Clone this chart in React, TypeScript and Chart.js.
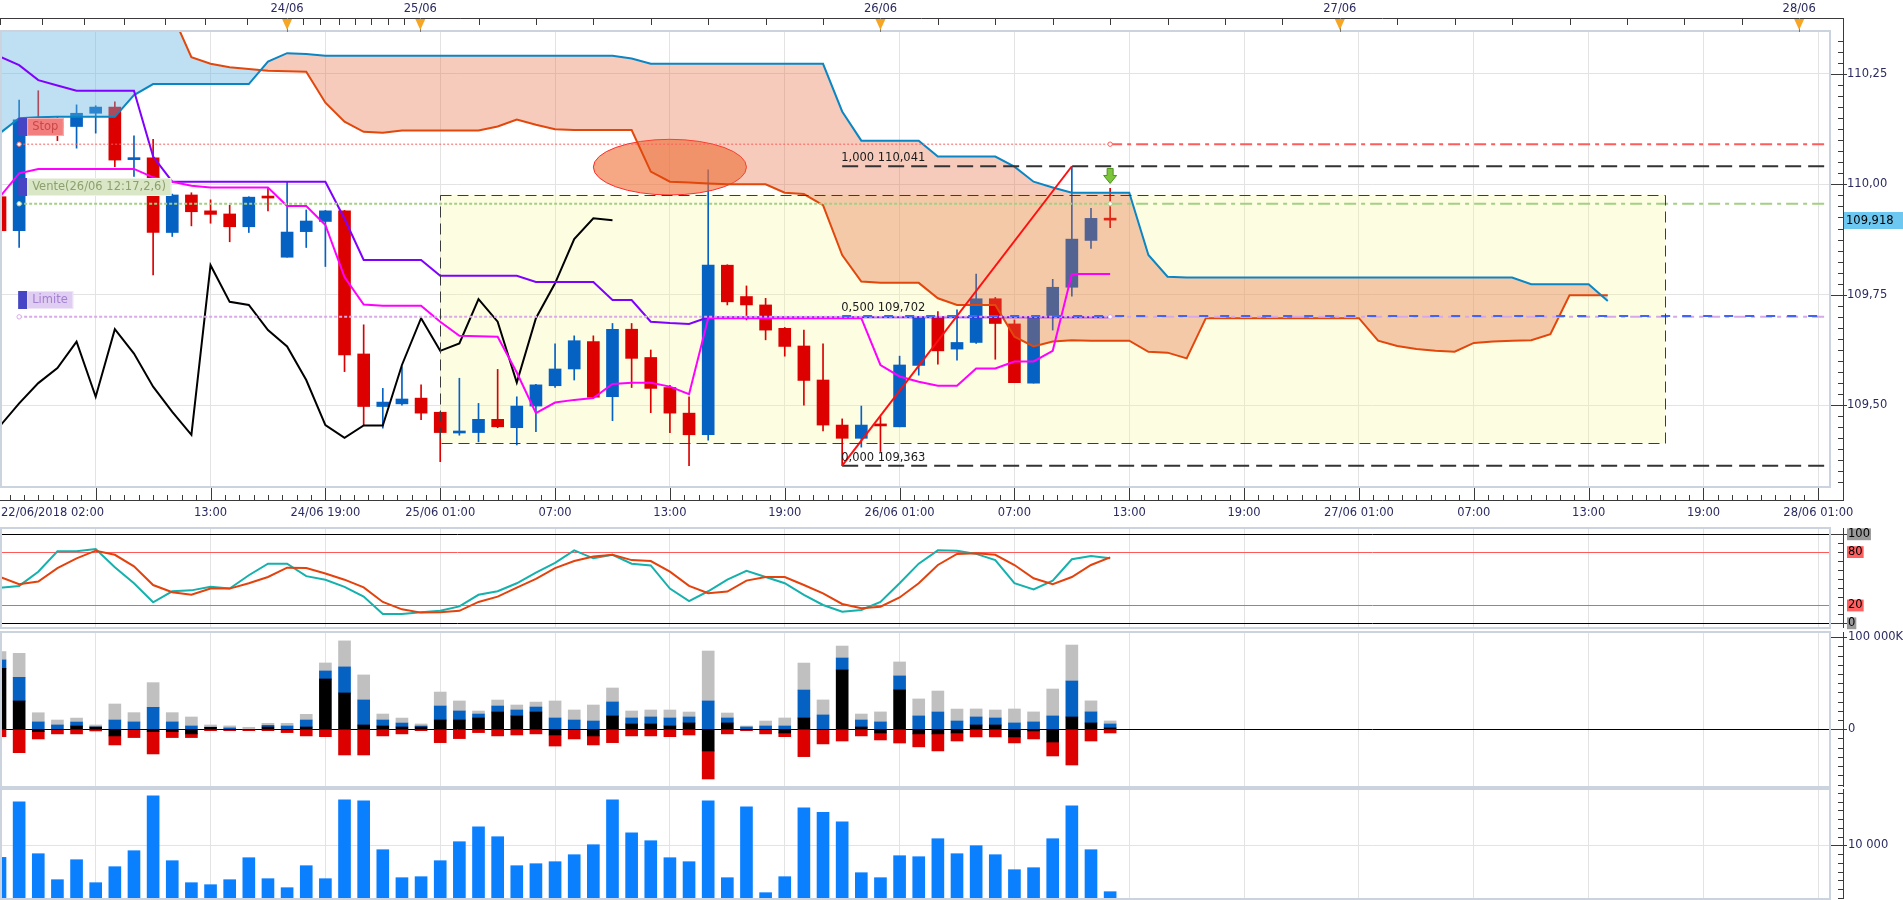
import React, { useEffect, useRef } from 'react';
import { Chart, registerables } from 'chart.js';

Chart.register(...registerables);

// ---------------- data (hourly candles) ----------------
const OPEN = [109.972, 109.895, 110.146, 110.140, 110.131, 110.161, 110.175, 110.056, 110.060, 109.891,
  109.976, 109.940, 109.933, 109.904, 109.971, 109.835, 109.893, 109.916, 109.940, 109.616,
  109.497, 109.503, 109.516, 109.484, 109.437, 109.438, 109.468, 109.449, 109.498, 109.544,
  109.582, 109.644, 109.519, 109.672, 109.608, 109.540, 109.482, 109.433, 109.817, 109.746,
  109.727, 109.674, 109.634, 109.557, 109.455, 109.425, 109.455, 109.451, 109.590, 109.700,
  109.627, 109.642, 109.741, 109.684, 109.550, 109.700, 109.767, 109.873, 109.923];
const HIGH = [109.975, 110.191, 110.212, 110.152, 110.180, 110.178, 110.187, 110.110, 110.102, 109.978,
  109.981, 109.965, 109.953, 109.972, 109.991, 110.006, 109.942, 109.941, 109.941, 109.682,
  109.538, 109.587, 109.546, 109.485, 109.561, 109.504, 109.581, 109.519, 109.547, 109.639,
  109.657, 109.657, 109.685, 109.685, 109.625, 109.545, 109.519, 110.033, 109.818, 109.770,
  109.742, 109.676, 109.670, 109.639, 109.469, 109.498, 109.474, 109.611, 109.700, 109.712,
  109.716, 109.797, 109.744, 109.693, 109.700, 109.785, 110.041, 109.946, 109.991];
const LOW = [109.880, 109.857, 110.120, 110.099, 110.082, 110.116, 110.040, 110.018, 109.795, 109.882,
  109.906, 109.912, 109.870, 109.891, 109.940, 109.835, 109.857, 109.814, 109.576, 109.455,
  109.448, 109.500, 109.467, 109.372, 109.432, 109.417, 109.449, 109.410, 109.440, 109.540,
  109.557, 109.516, 109.465, 109.540, 109.483, 109.438, 109.363, 109.421, 109.727, 109.693,
  109.648, 109.611, 109.500, 109.442, 109.363, 109.405, 109.395, 109.451, 109.568, 109.593,
  109.602, 109.640, 109.604, 109.551, 109.550, 109.670, 109.747, 109.855, 109.902];
const CLOSE = [109.895, 110.146, 110.140, 110.128, 110.161, 110.175, 110.055, 110.058, 109.891, 109.976,
  109.938, 109.932, 109.904, 109.971, 109.969, 109.892, 109.917, 109.940, 109.614, 109.497,
  109.507, 109.514, 109.482, 109.438, 109.439, 109.468, 109.451, 109.498, 109.546, 109.582,
  109.646, 109.518, 109.672, 109.606, 109.538, 109.482, 109.433, 109.817, 109.734, 109.727,
  109.670, 109.633, 109.556, 109.455, 109.425, 109.455, 109.453, 109.591, 109.700, 109.623,
  109.642, 109.741, 109.685, 109.551, 109.700, 109.767, 109.876, 109.923, 109.919];

const TENKAN = [109.972, 110.025, 110.035, 110.035, 110.035, 110.035, 110.035, 110.035, 110.016, 110.006,
  109.997, 109.993, 109.993, 109.993, 109.993, 109.951, 109.951, 109.908, 109.790, 109.728,
  109.725, 109.725, 109.725, 109.689, 109.657, 109.656, 109.655, 109.574, 109.482, 109.506,
  109.512, 109.516, 109.548, 109.551, 109.551, 109.542, 109.525, 109.697, 109.697, 109.697,
  109.697, 109.697, 109.697, 109.697, 109.697, 109.697, 109.591, 109.565, 109.553, 109.544,
  109.544, 109.583, 109.583, 109.599, 109.599, 109.623, 109.797, 109.797, 109.797];
const KIJUN = [110.289, 110.270, 110.236, 110.224, 110.212, 110.212, 110.212, 110.212, 110.063, 110.006,
  110.006, 110.006, 110.006, 110.006, 110.006, 110.006, 110.006, 110.006, 109.922, 109.829,
  109.829, 109.829, 109.829, 109.793, 109.793, 109.793, 109.793, 109.793, 109.779, 109.779,
  109.779, 109.779, 109.738, 109.738, 109.689, 109.686, 109.684, 109.699, 109.699, 109.699,
  109.699, 109.699, 109.699, 109.699, 109.699, 109.699, 109.699, 109.699, 109.699, 109.699,
  109.699, 109.699, 109.699, 109.699, 109.699, 109.699, 109.699, 109.699, 109.699];
const CHIKOU = [109.453, 109.504, 109.550, 109.584, 109.644, 109.519, 109.672, 109.617, 109.542, 109.485,
  109.433, 109.817, 109.734, 109.727, 109.670, 109.633, 109.557, 109.455, 109.426, 109.454,
  109.454, 109.591, 109.697, 109.623, 109.640, 109.740, 109.689, 109.551, 109.697, 109.776,
  109.876, 109.923, 109.919];
const SPAN_A = [110.116, 110.150, 110.152, 110.153, 110.153, 110.153, 110.153, 110.202, 110.227, 110.227,
  110.227, 110.227, 110.227, 110.227, 110.278, 110.297, 110.295, 110.291, 110.291, 110.291,
  110.291, 110.291, 110.291, 110.291, 110.291, 110.291, 110.291, 110.291, 110.291, 110.291,
  110.291, 110.291, 110.291, 110.285, 110.273, 110.273, 110.273, 110.273, 110.273, 110.273,
  110.273, 110.273, 110.273, 110.273, 110.165, 110.099, 110.099, 110.099, 110.099, 110.063,
  110.063, 110.063, 110.063, 110.040, 110.006, 109.993, 109.981, 109.981, 109.981, 109.981,
  109.840, 109.791, 109.789, 109.789, 109.789, 109.789, 109.789, 109.789, 109.789, 109.789,
  109.789, 109.789, 109.789, 109.789, 109.789, 109.789, 109.789, 109.789, 109.789, 109.789,
  109.774, 109.774, 109.774, 109.774, 109.736];
const SPAN_B = [110.400, 110.400, 110.400, 110.400, 110.400, 110.400, 110.400, 110.400, 110.400, 110.385,
  110.288, 110.273, 110.265, 110.261, 110.257, 110.256, 110.255, 110.185, 110.142, 110.119,
  110.117, 110.122, 110.122, 110.122, 110.122, 110.122, 110.131, 110.147, 110.135, 110.125,
  110.123, 110.123, 110.123, 110.123, 110.029, 110.006, 110.004, 110.002, 110.000, 110.000,
  110.000, 109.981, 109.978, 109.953, 109.840, 109.780, 109.777, 109.777, 109.777, 109.742,
  109.727, 109.727, 109.727, 109.655, 109.633, 109.644, 109.647, 109.646, 109.646, 109.646,
  109.621, 109.619, 109.606, 109.697, 109.697, 109.697, 109.697, 109.697, 109.697, 109.697,
  109.697, 109.697, 109.646, 109.634, 109.627, 109.623, 109.621, 109.641, 109.644, 109.646,
  109.647, 109.661, 109.749, 109.749, 109.749];

const STOCH_K = [40, 42, 58, 81, 81, 83.5, 63, 45, 23.6, 36,
  37, 41, 39, 54, 67, 67, 53, 49, 41, 30,
  10.5, 10.5, 12.4, 14, 19, 32, 36, 45, 57, 68,
  82, 73, 77, 67, 65, 39, 25, 36, 49, 59,
  52, 45, 32, 20.6, 13, 15, 24, 45, 67, 82,
  81.6, 78, 71, 45, 38, 48, 72, 75.7, 73];
const STOCH_D = [52, 44, 47, 62, 73, 81.6, 77, 64, 43, 35,
  32, 39, 39, 45, 52, 62.5, 62, 56, 49, 40.4,
  24, 15.7, 12, 12.4, 14, 24, 30, 40, 50, 62,
  70, 75, 77, 71, 70, 58, 42, 33.7, 35.6, 48,
  52, 52, 43, 33.7, 21.7, 17, 18.7, 29, 45, 65.5,
  78, 78.7, 77, 65.5, 50.6, 44, 52, 65.5, 74];

// flow histogram (thousands of K)
const FLOW_BLACK = [66.3, 30.8, -2.5, 0, 3.6, 2.5, -7.2, 0, -2.5, -2.5,
  -5, 2.2, 0, 0, 2.5, 0, 2.5, 54.7, 39.5, 4.7,
  3.6, 2.5, 2.5, 10.1, 10.1, 12.3, 18.8, 14.5, 18.8, -6.2,
  0, -7.2, 14.5, 5.8, 5.8, 3.6, 6.9, -23.6, 6.9, 0,
  0, -4, 12.3, 0, 64.5, 2.5, -4, 42.8, -5, -5,
  -4, 4.7, 4.7, -8.3, -1.8, -13.8, 13.4, 6.9, 1.5];
const FLOW_BLUE = [9.1, 25.7, 8, 4.7, 4.3, 0, 10.1, 8, 23.9, 8,
  3.6, 0, 1.5, 0, 1.8, 3.6, 7.6, 8.7, 28.3, 27.2,
  6.5, 4.3, 1.1, 15.2, 9.8, 4.3, 6.5, 6.5, 5.4, 12.3,
  10.1, 9, 15.2, 6.5, 7.6, 8.7, 6.5, 30.8, 5.4, 2.5,
  3.6, 3.6, 30.4, 15.6, 13, 7.6, 8, 15.2, 14.5, 18.8,
  9, 8.7, 7.6, 6.9, 8, 14.5, 39.1, 12, 4.3];
const FLOW_GRAY = [9.1, 26.1, 10, 5.4, 4.3, 2.2, 17.4, 10.1, 26.8, 10.1,
  9.8, 2.5, 2.2, 2.2, 2.2, 2.9, 6.2, 8.7, 28.3, 27.2,
  6.5, 5.4, 2.2, 15.2, 10.9, 3.3, 6.5, 5.4, 5.4, 18.5,
  10.9, 17.4, 15.2, 7.6, 7.6, 8.7, 5.4, 54.3, 5.4, 1.1,
  5.4, 8.7, 29.3, 16.3, 13, 6.5, 10.9, 15.2, 18.5, 22.8,
  13, 8.7, 8.7, 15.2, 10.9, 29.3, 39.1, 12, 3.3];
const FLOW_RED = [-8, -25.4, -8, -5, -5, -1.8, -9.8, -9, -24.3, -6.5,
  -4, -1.5, -1.5, -1.5, -1.5, -3.6, -7.2, -8, -27.9, -27.9,
  -7.2, -5, -1.5, -14.5, -10.1, -3.6, -7.2, -6.2, -5, -12,
  -10.5, -9.8, -14.5, -7.2, -7.2, -8, -6.2, -30.4, -5, -1.5,
  -5, -4, -29.7, -15.9, -12.7, -7.2, -7.6, -14.9, -14.1, -18.5,
  -8.7, -8.3, -8.3, -6.5, -8.7, -15.2, -38.8, -12.7, -4];

const VOLUME = [7720, 18290, 8420, 3480, 7280, 2910, 5950, 8990, 19430, 7090,
  2910, 2530, 3480, 7660, 3670, 1960, 6140, 3670, 18670, 18480,
  9180, 3860, 4050, 7090, 10700, 13540, 11650, 6140, 6520, 6900,
  8230, 10130, 18670, 12400, 10890, 7660, 6900, 18480, 3860, 17340,
  1010, 4050, 17150, 16270, 14490, 4810, 3860, 8040, 7850, 11270,
  8420, 9940, 8230, 5380, 5760, 11270, 17530, 9180, 1200];

// axes / ticks
const PRICE_TICKS = [109.5, 109.75, 110, 110.25];
const STOCH_TICKS = [0, 20, 80, 100];
const FLOW_TICKS = [0, 100];
const VOLUME_TICKS = [10000];
const GRID_IDX = [5, 11, 17, 23, 29, 35, 41, 47, 53, 59, 65, 71, 77, 83, 89, 95];
const TIME_LABEL_IDX = [0, 11, 17, 23, 29, 35, 41, 47, 53, 59, 65, 71, 77, 83, 89, 95];
const TIME_LABELS = ['22/06/2018 02:00', '13:00', '24/06 19:00', '25/06 01:00', '07:00', '13:00', '19:00',
  '26/06 01:00', '07:00', '13:00', '19:00', '27/06 01:00', '07:00', '13:00', '19:00', '28/06 01:00'];
const TOP_TICK_IDX = [0, 2.2, 4.37, 6.5, 8.6, 10.7, 12.9, 15, 15.85, 16.7, 17.7, 18.55, 19.4, 20.25, 21.1, 21.96,
  25, 28, 31, 34, 37, 40, 43, 46, 49, 52, 55, 58, 61, 64, 67, 70, 73, 76, 79, 82, 85, 88, 91, 94];
const DATE_MARK_IDX = [15, 21.96, 46, 70, 94];
const DATE_MARKS = ['24/06', '25/06', '26/06', '27/06', '28/06'];

// orders / drawings
const STOP_PRICE = 110.091;
const SELL_PRICE = 109.956;
const LIMIT_PRICE = 109.700;
const LAST_PRICE = 109.918;
const ORDER_START = 1;
const ORDER_END = 58;
const FIB_PRICES = [110.041, 109.702, 109.363];
const FIB_LABELS = ['1,000 110,041', '0,500 109,702', '0,000 109,363'];
const FIB_START = 44;
const FIB_END = 56;
const BOX_FROM = 23;
const BOX_TO = 87;
const BOX_TOP = 109.977;
const BOX_BOTTOM = 109.414;
const ELLIPSE_X = 35;
const ELLIPSE_Y = 110.039;
const ELLIPSE_RX = 4;
const ELLIPSE_RY = 0.063;
const ARROW_IDX = 58;
const ARROW_PRICE = 110.036;

// ---------------- layout / style ----------------
const W = 1903;
const PLOT_RIGHT = 1830;
const AXIS_X = 1843;
const XMAX = 95.61;
const FONT_FAMILY = '"DejaVu Sans", Verdana, sans-serif';
const FS = 11.5;
const FONT = `${FS}px ${FONT_FAMILY}`;
const AXIS_TEXT = '#2b2b62';
const GRID_COLOR = '#e3e3e3';
const BULL = '#0561c2';
const BEAR = '#dc0000';

const series = (arr: number[], start = 0) => arr.map((y, i) => ({ x: i + start, y }));
const flat = (y: number, x0: number, x1: number) => [{ x: x0, y }, { x: x1, y }];
const fmt = (v: number, d: number) => v.toFixed(d).replace('.', ',');

function seg(ctx: any, x0: number, y0: number, x1: number, y1: number) {
  ctx.beginPath();
  ctx.moveTo(x0, y0);
  ctx.lineTo(x1, y1);
  ctx.stroke();
}

function baseOptions(padTop: number, padBottom: number) {
  return {
    responsive: false,
    maintainAspectRatio: false,
    animation: false,
    events: [],
    layout: { autoPadding: false, padding: { top: padTop, bottom: padBottom, left: 0, right: 0 } },
    plugins: { legend: { display: false }, tooltip: { enabled: false } },
  };
}

function xScale(height: number, stacked = false) {
  return {
    type: 'linear', min: 0, max: XMAX, offset: false, position: 'bottom', stacked,
    grid: { color: GRID_COLOR, drawTicks: false, offset: false },
    border: { display: false },
    ticks: { display: false },
    afterBuildTicks: (s: any) => { s.ticks = GRID_IDX.map((v) => ({ value: v })); },
    afterFit: (s: any) => { s.height = height; },
  };
}

function frameAndAxis(chart: any, top: number, bottom: number) {
  const { ctx, chartArea: a } = chart;
  ctx.save();
  ctx.strokeStyle = '#cbd3df';
  ctx.lineWidth = 2;
  ctx.strokeRect(a.left + 1, a.top - 1, a.right - a.left - 1, a.bottom - a.top + 2);
  ctx.strokeStyle = '#3a3a3a';
  ctx.lineWidth = 1;
  seg(ctx, AXIS_X + 0.5, top, AXIS_X + 0.5, bottom);
  ctx.restore();
}

function rulerTicks(chart: any, minors: number[], majors: number[]) {
  const { ctx, scales: { y } } = chart;
  ctx.save();
  ctx.strokeStyle = '#3a3a3a';
  ctx.lineWidth = 1;
  minors.forEach((v) => {
    const py = Math.round(y.getPixelForValue(v)) + 0.5;
    seg(ctx, AXIS_X - 5, py, AXIS_X, py);
  });
  majors.forEach((v) => {
    const py = Math.round(y.getPixelForValue(v)) + 0.5;
    seg(ctx, PLOT_RIGHT + 1, py, AXIS_X + 4, py);
  });
  ctx.restore();
}

function range(from: number, to: number, step: number) {
  const out: number[] = [];
  const n = Math.round((to - from) / step);
  for (let k = 0; k <= n; k++) out.push(from + k * step);
  return out;
}

function drawTag(ctx: any, x: number, lineY: number, text: string, bg: string, fg: string, edge: string) {
  ctx.font = FONT;
  const w = ctx.measureText(text).width + 10;
  const top = Math.round(lineY - 26);
  ctx.fillStyle = '#4545c6';
  ctx.fillRect(x - 1, top, 9.5, 18);
  ctx.fillStyle = bg;
  ctx.fillRect(x + 8.5, top, w, 18);
  ctx.strokeStyle = edge;
  ctx.lineWidth = 1;
  ctx.strokeRect(x + 8.5, top + 0.5, w - 0.5, 17);
  ctx.fillStyle = fg;
  ctx.textAlign = 'left';
  ctx.textBaseline = 'middle';
  ctx.fillText(text, x + 13, top + 9.5);
}

function yScale(min: number, max: number, ticks: number[], extra: any) {
  return {
    type: 'linear', position: 'right', min, max,
    border: { display: false },
    afterBuildTicks: (s: any) => { s.ticks = ticks.map((v) => ({ value: v })); },
    afterFit: (s: any) => { s.width = W - PLOT_RIGHT; },
    ...extra,
  };
}

// ---------------- main price chart ----------------
const mainDeco = {
  id: 'mainDeco',
  beforeDatasetsDraw(chart: any) {
    const { ctx, scales: { x, y } } = chart;
    const l = x.getPixelForValue(BOX_FROM);
    const r = x.getPixelForValue(BOX_TO);
    const t = y.getPixelForValue(BOX_TOP);
    const b = y.getPixelForValue(BOX_BOTTOM);
    ctx.save();
    ctx.fillStyle = 'rgba(250,250,160,0.3)';
    ctx.fillRect(l, t, r - l, b - t);
    ctx.restore();
  },
  afterDatasetDraw(chart: any, args: any) {
    if (args.index !== 1) return;
    const { ctx, scales: { x, y } } = chart;
    const cx = x.getPixelForValue(ELLIPSE_X);
    const cy = y.getPixelForValue(ELLIPSE_Y);
    const rx = x.getPixelForValue(ELLIPSE_X + ELLIPSE_RX) - cx;
    const ry = y.getPixelForValue(ELLIPSE_Y - ELLIPSE_RY) - cy;
    ctx.save();
    ctx.beginPath();
    ctx.ellipse(cx, cy, rx, ry, 0, 0, Math.PI * 2);
    ctx.fillStyle = 'rgba(240,110,50,0.6)';
    ctx.fill();
    ctx.strokeStyle = '#ff2a2a';
    ctx.lineWidth = 1;
    ctx.stroke();
    ctx.restore();
  },
  afterDatasetsDraw(chart: any) {
    const { ctx, scales: { x, y } } = chart;
    ctx.save();
    const l = Math.round(x.getPixelForValue(BOX_FROM)) + 0.5;
    const r = Math.round(x.getPixelForValue(BOX_TO)) + 0.5;
    const t = Math.round(y.getPixelForValue(BOX_TOP)) + 0.5;
    const b = Math.round(y.getPixelForValue(BOX_BOTTOM)) + 0.5;
    ctx.setLineDash([11, 6]);
    ctx.strokeStyle = '#3c3c3c';
    ctx.lineWidth = 1;
    ctx.strokeRect(l, t, r - l, b - t);
    ctx.setLineDash([]);
    ctx.font = FONT;
    ctx.fillStyle = '#1a1a1a';
    ctx.textAlign = 'left';
    ctx.textBaseline = 'bottom';
    FIB_PRICES.forEach((p, i) => {
      ctx.fillText(FIB_LABELS[i], x.getPixelForValue(FIB_START) - 1, y.getPixelForValue(p) - 2);
    });
    const tx = x.getPixelForValue(ORDER_START);
    drawTag(ctx, tx, y.getPixelForValue(STOP_PRICE), 'Stop', '#f37e7e', '#c84848', '#f6b0b0');
    drawTag(ctx, tx, y.getPixelForValue(SELL_PRICE), 'Vente(26/06 12:17,2,6)', '#d9e7c6', '#8e9f6e', '#eef4e4');
    drawTag(ctx, tx, y.getPixelForValue(LIMIT_PRICE), 'Limite', '#e0cdf2', '#a480d2', '#efe4f8');
    const ax = x.getPixelForValue(ARROW_IDX);
    const ay = y.getPixelForValue(ARROW_PRICE);
    ctx.beginPath();
    ctx.moveTo(ax - 3, ay);
    ctx.lineTo(ax + 3, ay);
    ctx.lineTo(ax + 3, ay + 7);
    ctx.lineTo(ax + 6.5, ay + 7);
    ctx.lineTo(ax, ay + 15);
    ctx.lineTo(ax - 6.5, ay + 7);
    ctx.lineTo(ax - 3, ay + 7);
    ctx.closePath();
    ctx.fillStyle = '#7cc63c';
    ctx.fill();
    ctx.strokeStyle = '#4e921e';
    ctx.lineWidth = 1;
    ctx.stroke();
    ctx.restore();
  },
  afterDraw(chart: any) {
    const { ctx, chartArea: a, scales: { x, y } } = chart;
    frameAndAxis(chart, 18, 501);
    ctx.save();
    ctx.strokeStyle = '#3a3a3a';
    ctx.lineWidth = 1;
    seg(ctx, 0, 18.5, AXIS_X + 0.5, 18.5);
    TOP_TICK_IDX.forEach((v) => {
      const px = Math.round(x.getPixelForValue(v)) + 0.5;
      seg(ctx, px, 18, px, 25);
    });
    seg(ctx, 0, 500.5, AXIS_X + 0.5, 500.5);
    GRID_IDX.forEach((v) => {
      const px = Math.round(x.getPixelForValue(v)) + 0.5;
      seg(ctx, px, 488, px, 500);
    });
    for (let k = -6; k * 0.75 + 5 <= XMAX; k++) {
      if (k % 8 === 0) continue;
      const px = Math.round(x.getPixelForValue(5 + k * 0.75)) + 0.5;
      seg(ctx, px, 495, px, 500);
    }
    ctx.restore();
    rulerTicks(chart, range(109.325, 110.325, 0.025), PRICE_TICKS);
    ctx.save();
    DATE_MARK_IDX.forEach((v, i) => {
      const px = x.getPixelForValue(v);
      ctx.strokeStyle = '#777';
      ctx.lineWidth = 1;
      seg(ctx, Math.round(px) + 0.5, 18, Math.round(px) + 0.5, a.top);
      ctx.beginPath();
      ctx.moveTo(px - 5, 19);
      ctx.lineTo(px + 5, 19);
      ctx.lineTo(px, 30);
      ctx.closePath();
      ctx.fillStyle = '#f6a623';
      ctx.fill();
      ctx.font = FONT;
      ctx.fillStyle = AXIS_TEXT;
      ctx.textAlign = 'center';
      ctx.textBaseline = 'middle';
      ctx.fillText(DATE_MARKS[i], px, 9);
    });
    ctx.font = FONT;
    ctx.fillStyle = AXIS_TEXT;
    ctx.textBaseline = 'middle';
    TIME_LABEL_IDX.forEach((v, i) => {
      ctx.textAlign = i === 0 ? 'left' : 'center';
      ctx.fillText(TIME_LABELS[i], i === 0 ? 1 : x.getPixelForValue(v), 513);
    });
    const py = y.getPixelForValue(LAST_PRICE);
    ctx.fillStyle = '#6cc7f1';
    ctx.fillRect(AXIS_X + 1, Math.round(py - 8.5), W - AXIS_X - 1, 17);
    ctx.fillStyle = '#000';
    ctx.textAlign = 'left';
    ctx.fillText(fmt(LAST_PRICE, 3), AXIS_X + 3, py);
    ctx.restore();
  },
};

function lineDs(data: any[], color: string, width: number, order: number, extra: any = {}) {
  return { type: 'line', data, borderColor: color, borderWidth: width, pointRadius: 0, tension: 0, fill: false, order, ...extra };
}

function orderLine(price: number, color: string, width: number, dash: number[], order: number) {
  return lineDs(flat(price, ORDER_START, ORDER_END), color, width, order, {
    borderDash: dash, pointRadius: 2.2, pointBackgroundColor: '#fff', pointBorderColor: color, pointBorderWidth: 1,
  });
}

function mainConfig() {
  const colors = CLOSE.map((c, i) => (c >= OPEN[i] ? BULL : BEAR));
  const datasets = [
    { type: 'bar', data: LOW.map((l, i) => ({ x: i, y: [l, HIGH[i]] })), backgroundColor: colors, barThickness: 1, grouped: false, order: 20 },
    { type: 'bar', data: OPEN.map((o, i) => ({ x: i, y: [o, CLOSE[i]] })), backgroundColor: colors, barThickness: 12, minBarLength: 2, grouped: false, order: 19 },
    lineDs(series(SPAN_A), '#0a86c4', 2, 7),
    lineDs(series(SPAN_B), '#e2470c', 2, 8, {
      fill: { target: 2, above: 'rgba(100,180,225,0.42)', below: 'rgba(230,105,60,0.35)' },
    }),
    lineDs(series(CHIKOU), '#000000', 2, 5),
    lineDs(series(KIJUN), '#8000ff', 2, 4),
    lineDs(series(TENKAN), '#ff00ff', 2, 3),
    orderLine(STOP_PRICE, '#ff5c5c', 1, [2, 2], 2),
    lineDs(flat(STOP_PRICE, ORDER_END, XMAX), '#ff5c5c', 2, 2, { borderDash: [12, 5, 4, 5] }),
    orderLine(SELL_PRICE, '#a3d083', 2, [3, 2], 2),
    lineDs(flat(SELL_PRICE, ORDER_END, XMAX), '#a3d083', 2, 2, { borderDash: [12, 5, 4, 5] }),
    orderLine(LIMIT_PRICE, '#d9a9ea', 2, [3, 2], 2),
    lineDs(flat(LIMIT_PRICE, ORDER_END, XMAX), '#d7a8e8', 2, 2, { borderDash: [12, 5, 4, 5] }),
    lineDs(flat(FIB_PRICES[0], FIB_START, XMAX), '#333333', 2, 1, { borderDash: [16, 7] }),
    lineDs(flat(FIB_PRICES[1], FIB_START, XMAX), '#4062ff', 2, 1, { borderDash: [9, 12] }),
    lineDs(flat(FIB_PRICES[2], FIB_START, XMAX), '#333333', 2, 1, { borderDash: [16, 7] }),
    lineDs([{ x: FIB_START, y: FIB_PRICES[2] }, { x: FIB_END, y: FIB_PRICES[0] }], '#ff1010', 2, 0),
  ];
  return {
    type: 'line',
    data: { datasets },
    options: {
      ...baseOptions(32, 0),
      scales: {
        x: xScale(38),
        y: yScale(109.317, 110.345, PRICE_TICKS, {
          grid: { color: GRID_COLOR, drawTicks: true, tickLength: 17, tickColor: 'rgba(0,0,0,0)' },
          ticks: { padding: 0, color: AXIS_TEXT, font: { family: FONT_FAMILY, size: FS }, callback: (v: any) => fmt(Number(v), 2) },
        }),
      },
    },
    plugins: [mainDeco],
  };
}

// ---------------- stochastic ----------------
const isBand = (c: any) => c.tick && (c.tick.value === 20 || c.tick.value === 80);

function stochConfig() {
  return {
    type: 'line',
    data: {
      datasets: [
        lineDs(series(STOCH_D), '#e3420c', 2, 0),
        lineDs(series(STOCH_K), '#14b1ad', 2, 1),
      ],
    },
    options: {
      ...baseOptions(10, 10),
      scales: {
        x: xScale(0),
        y: yScale(-4.16, 105.96, STOCH_TICKS, {
          grid: { color: (c: any) => (isBand(c) ? '#ff5a5a' : '#000000'), drawTicks: true, tickLength: 18, tickColor: 'rgba(0,0,0,0)' },
          ticks: {
            padding: 0, color: '#000', font: { family: FONT_FAMILY, size: FS },
            showLabelBackdrop: true,
            backdropColor: (c: any) => (isBand(c) ? '#ff5f5f' : '#9a9a9a'),
            backdropPadding: { top: -1, bottom: -1, left: 1, right: 1 },
          },
        }),
      },
    },
    plugins: [{
      id: 'stochDeco',
      afterDraw(chart: any) {
        frameAndAxis(chart, chart.chartArea.top - 1, chart.chartArea.bottom + 1);
        rulerTicks(chart, range(0, 100, 10), [0, 100]);
      },
    }],
  };
}

// ---------------- flow histogram ----------------
function flowConfig() {
  const bar = (data: number[], color: string) => ({ type: 'bar', data: series(data), backgroundColor: color, barThickness: 12 });
  return {
    type: 'line',
    data: {
      datasets: [
        bar(FLOW_BLACK, '#000000'),
        bar(FLOW_BLUE, '#0561c2'),
        bar(FLOW_GRAY, '#c0c0c0'),
        bar(FLOW_RED, '#dc0000'),
      ],
    },
    options: {
      ...baseOptions(10, 10),
      scales: {
        x: xScale(0, true),
        y: yScale(-61.63, 104.67, FLOW_TICKS, {
          stacked: true, z: 1,
          grid: { color: (c: any) => (c.tick && c.tick.value === 0 ? '#000000' : 'rgba(0,0,0,0)'), drawTicks: true, tickLength: 18, tickColor: 'rgba(0,0,0,0)' },
          ticks: {
            padding: 0, color: AXIS_TEXT, font: { family: FONT_FAMILY, size: FS },
            callback: (v: any) => (Number(v) === 0 ? '0' : `${Number(v)} 000K`),
          },
        }),
      },
    },
    plugins: [{
      id: 'flowDeco',
      afterDraw(chart: any) {
        frameAndAxis(chart, chart.chartArea.top - 1, chart.chartArea.bottom + 1);
        rulerTicks(chart, range(-60, 100, 10), [0, 100]);
      },
    }],
  };
}

// ---------------- volume ----------------
function volumeConfig() {
  return {
    type: 'line',
    data: { datasets: [{ type: 'bar', data: series(VOLUME), backgroundColor: '#0a80ff', barThickness: 12 }] },
    options: {
      ...baseOptions(10, 10),
      scales: {
        x: xScale(0),
        y: yScale(0, 20530, VOLUME_TICKS, {
          grid: { color: GRID_COLOR, drawTicks: true, tickLength: 18, tickColor: 'rgba(0,0,0,0)' },
          ticks: {
            padding: 0, color: AXIS_TEXT, font: { family: FONT_FAMILY, size: FS },
            callback: (v: any) => Number(v).toLocaleString('en-US').replace(',', ' '),
          },
        }),
      },
    },
    plugins: [{
      id: 'volDeco',
      afterDraw(chart: any) {
        const { ctx, chartArea: a } = chart;
        frameAndAxis(chart, a.top - 1, a.bottom + 1);
        rulerTicks(chart, range(0, 20000, 10000 / 6), [10000]);
        ctx.save();
        ctx.font = FONT;
        ctx.fillStyle = '#3d3d7d';
        ctx.textAlign = 'right';
        ctx.textBaseline = 'middle';
        ctx.fillText('FXCM Marketscope © 2018', PLOT_RIGHT - 2, 892);
        ctx.restore();
      },
    }],
  };
}

function ChartCanvas({ top, height, make }: { top: number; height: number; make: () => any }) {
  const ref = useRef<HTMLCanvasElement>(null);
  useEffect(() => {
    const chart = new Chart(ref.current as HTMLCanvasElement, make());
    return () => chart.destroy();
  }, []);
  return (
    <canvas
      ref={ref}
      width={W}
      height={height}
      style={{ position: 'absolute', left: 0, top, width: W, height }}
    />
  );
}

export default function App() {
  return (
    <div style={{ position: 'absolute', left: 0, top: 0, width: W, height: 900, overflow: 'hidden', background: '#ffffff' }}>
      <ChartCanvas top={0} height={524} make={mainConfig} />
      <ChartCanvas top={519} height={118} make={stochConfig} />
      <ChartCanvas top={623} height={173} make={flowConfig} />
      <ChartCanvas top={780} height={128} make={volumeConfig} />
    </div>
  );
}
